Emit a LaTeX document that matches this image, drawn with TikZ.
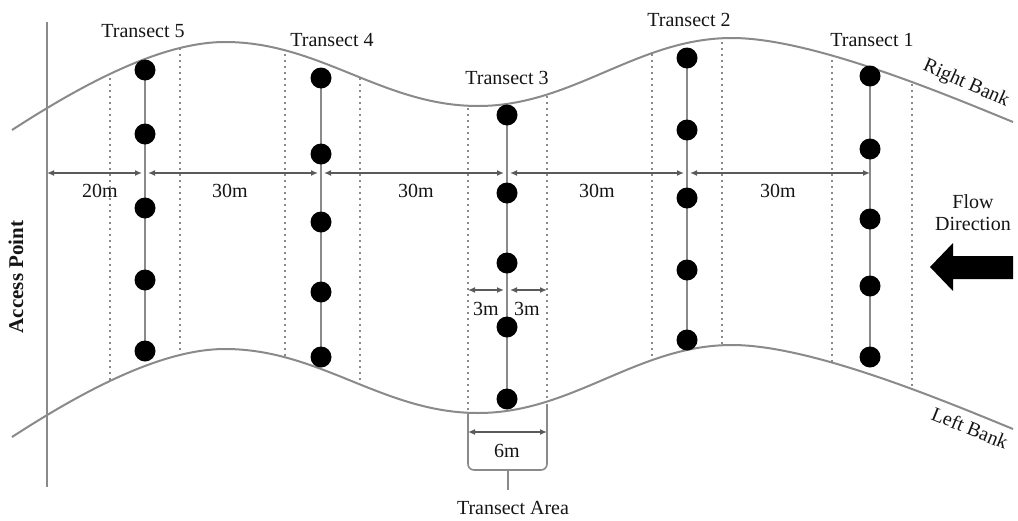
\documentclass[tikz,border=0pt]{standalone}
\usepackage{fontspec}
\setmainfont{Liberation Serif}
\usetikzlibrary{arrows.meta,backgrounds}
\definecolor{ln}{HTML}{8A8A8A}
\definecolor{dl}{HTML}{5A5A5A}
\definecolor{tx}{HTML}{151515}
\begin{document}
\begin{tikzpicture}[x=0.5pt,y=-0.5pt,
  bank/.style={draw=ln, line width=1pt},
  guide/.style={draw=ln, line width=0.8pt, dash pattern=on 1.2pt off 1.8pt},
  dot/.style={circle, fill=black, inner sep=0pt, minimum size=10.5pt},
  tline/.style={draw=ln, line width=1pt},
  brace/.style={draw=ln, line width=0.8pt, rounded corners=3pt},
  dim/.style={draw=dl, line width=0.8pt, {Latex[length=3.5pt,width=3pt]}-{Latex[length=3.5pt,width=3pt]}},
  lbl/.style={font=\fontsize{10}{12}\selectfont, text=tx, inner sep=1pt},
  rbank/.style={insert path={(12,130) .. controls (80,86) and (160,42) .. (225,42)
      .. controls (320,42) and (383,106) .. (478,106)
      .. controls (573,106) and (637,38) .. (732,38)
      .. controls (810,38) and (940,92) .. (1013,122)}},
]
\useasboundingbox (0,0) rectangle (1018,520);

% banks (left bank is the right bank moved down)
\draw[bank, rbank];
\draw[bank, shift={(0,307)}, rbank];

% access point line
\coordinate (apt) at (47,22);
\coordinate (apb) at (47,487);
\draw[bank] (apt) -- (apb);
\node[lbl, font=\bfseries\fontsize{10.5}{13}\selectfont, rotate=90] (ap) at (16,277) {Access Point};

% dotted guide lines between the banks
\begin{scope}
  \clip[rbank] -- (1013,600) -- (12,600) -- cycle;
  \clip[shift={(0,307)}, rbank] -- (1013,-400) -- (12,-400) -- cycle;
  \foreach \x in {110,180,285,360,468,547,652,722,832,912}
    \draw[guide] (\x,0) -- (\x,520);
\end{scope}

% transect dots
\foreach \n/\x/\a/\b/\c/\d/\e in {5/145/70/134/208/280/351, 4/321/78/154/222/292/357, 3/507/115/193/263/327/399, 2/687/58/130/198/270/340, 1/870/76/149/219/286/357}{
  \node[dot] (t\n a) at (\x,\a) {};
  \node[dot] (t\n b) at (\x,\b) {};
  \node[dot] (t\n c) at (\x,\c) {};
  \node[dot] (t\n d) at (\x,\d) {};
  \node[dot] (t\n e) at (\x,\e) {};
  \begin{pgfonlayer}{background}
    \draw[tline] (t\n a.center) -- (t\n e.center);
  \end{pgfonlayer}
}

% transect labels
\node[lbl] (l5) at (143,31) {Transect 5};
\node[lbl] (l4) at (332,40) {Transect 4};
\node[lbl] (l3) at (507,78) {Transect 3};
\node[lbl] (l2) at (689,20) {Transect 2};
\node[lbl] (l1) at (872,40) {Transect 1};

% main dimension line
\coordinate (m0) at (47,173);
\coordinate (m5) at (145,173);
\coordinate (m4) at (321,173);
\coordinate (m3) at (507,173);
\coordinate (m2) at (687,173);
\coordinate (m1) at (870,173);
\draw[dim, shorten >=1.5pt] (m0) -- (m5);
\draw[dim, shorten <=1.5pt, shorten >=1.5pt] (m5) -- (m4);
\draw[dim, shorten <=1.5pt, shorten >=1.5pt] (m4) -- (m3);
\draw[dim, shorten <=1.5pt, shorten >=1.5pt] (m3) -- (m2);
\draw[dim, shorten <=1.5pt] (m2) -- (m1);
\node[lbl] (d20) at (100,191) {20m};
\node[lbl] (d30a) at (230,191) {30m};
\node[lbl] (d30b) at (416,191) {30m};
\node[lbl] (d30c) at (597,191) {30m};
\node[lbl] (d30d) at (778,191) {30m};

% 3m dimensions
\coordinate (s0) at (468,290);
\coordinate (s1) at (507,290);
\coordinate (s2) at (547,290);
\draw[dim, shorten >=1.5pt] (s0) -- (s1);
\draw[dim, shorten <=1.5pt] (s1) -- (s2);
\node[lbl] (d3a) at (486,309) {3m};
\node[lbl] (d3b) at (527,309) {3m};

% 6m dimension and transect area bracket
\coordinate (w0) at (468,432);
\coordinate (w1) at (547,432);
\draw[dim] (w0) -- (w1);
\node[lbl] (d6) at (507,451) {6m};
\coordinate (b0) at (468,412);
\coordinate (b1) at (547,404);
\coordinate (bc) at (508,470);
\coordinate (bt) at (508,490);
\draw[brace] (b0) -- (468,470) -- (547,470) -- (b1);
\draw[brace] (bc) -- (bt);
\node[lbl] (ta) at (513,508) {Transect Area};

% bank labels
\node[lbl, rotate=-24] (rbl) at (966,84) {Right Bank};
\node[lbl, rotate=-22] (lbl) at (970,428) {Left Bank};

% flow direction
\node[lbl, align=center] (flow) at (973,213) {Flow\\[-1pt]Direction};
\fill[black] (1013,256) -- (953,256) -- (953,243) -- (930,267) -- (953,291) -- (953,279) -- (1013,279) -- cycle;
\end{tikzpicture}
\end{document}
